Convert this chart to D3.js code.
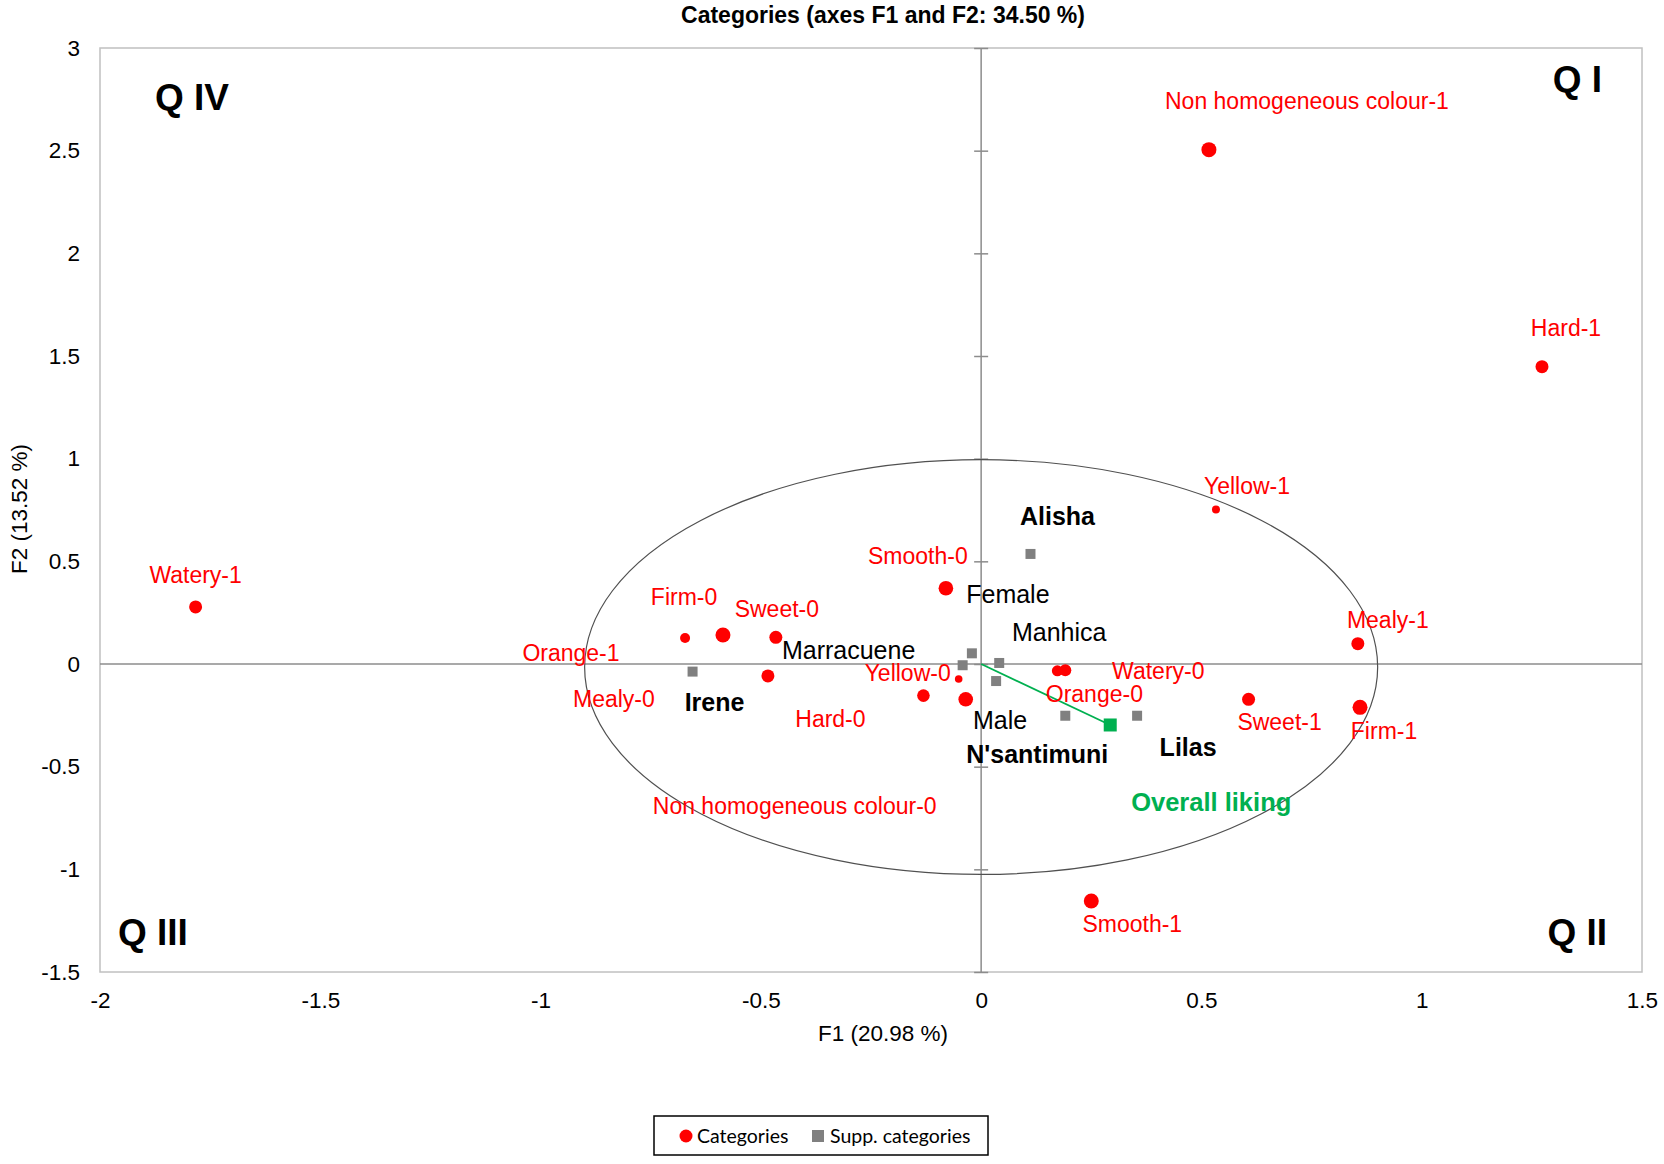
<!DOCTYPE html>
<html>
<head>
<meta charset="utf-8">
<script src="https://cdn.jsdelivr.net/npm/d3@7"></script>
<style>
  body { margin: 0; background: #fff; }
  text { font-family: "Liberation Sans", Arial, sans-serif; }
</style>
</head>
<body>
<div id="graph"></div>
<script>
// DATOS (coordenadas F1, F2)
const catNames = ["Non homogeneous colour-1", "Hard-1", "Watery-1", "Yellow-1", "Mealy-1", "Firm-1",
  "Sweet-1", "Watery-0", "Orange-0", "Smooth-1", "Smooth-0", "Yellow-0", "Firm-0", "Sweet-0",
  "Orange-1", "Mealy-0", "Hard-0", "Non homogeneous colour-0"];
const catF1 = [0.517, 1.273, -1.783, 0.533, 0.855, 0.860, 0.607, 0.191, 0.173, 0.250, -0.080, -0.051,
  -0.672, -0.466, -0.586, -0.484, -0.131, -0.035];
const catF2 = [2.505, 1.448, 0.278, 0.753, 0.099, -0.211, -0.172, -0.031, -0.033, -1.154, 0.369, -0.073,
  0.127, 0.130, 0.141, -0.058, -0.154, -0.172];

const suppNames = ["Alisha", "Irene", "Female", "Manhica", "Marracuene", "Male", "N'santimuni", "Lilas"];
const suppF1 = [0.112, -0.655, -0.021, 0.041, -0.042, 0.034, 0.191, 0.354];
const suppF2 = [0.536, -0.037, 0.052, 0.005, -0.006, -0.083, -0.252, -0.252];

const likingName = "Overall liking";
const likingF1 = 0.293;
const likingF2 = -0.297;

const xTicks = [-2, -1.5, -1, -0.5, 0, 0.5, 1, 1.5];
const yTicks = [-1.5, -1, -0.5, 0, 0.5, 1, 1.5, 2, 2.5, 3];

const titleText = "Categories (axes F1 and F2: 34.50 %)";
const xTitle = "F1 (20.98 %)";
const yTitle = "F2 (13.52 %)";
const quadrants = ["Q I", "Q II", "Q III", "Q IV"];

// LAYOUT: radio de los puntos y posicion de etiquetas (px respecto al punto)
const catRadius = [7.5, 6.5, 6.5, 4, 6.5, 7.5, 6.5, 6, 5.5, 7.5, 7.3, 3.8, 5, 6.5, 7.5, 6.5, 6.3, 7.3];
const catLabelOff = [[98, -49], [24, -39], [0, -32], [31, -24], [30, -24], [24, 23], [31, 22], [93, 0],
  [37, 23], [41, 23], [-28, -33], [-51, -6], [-1, -41], [1, -29], [-152, 18], [-154, 23], [-93, 23],
  [-171, 106]];
const suppBold = [true, true, false, false, false, false, true, true];
const suppLabelOff = [[27, -38], [22, 30], [36, -59], [60, -31], [-114, -15], [4, 39], [-28, 38], [51, 31]];
const likingLabelOff = [101, 77];

const svgWidth = 1664;
const svgHeight = 1164;
const margin = { top: 48, right: 22, bottom: 192, left: 100 };

const svg = d3.select("#graph")
  .append("svg")
  .attr("width", svgWidth)
  .attr("height", svgHeight);

const x = d3.scaleLinear().domain([-2, 1.5]).range([margin.left, svgWidth - margin.right]);
const y = d3.scaleLinear().domain([-1.5, 3]).range([svgHeight - margin.bottom, margin.top]);

const red = "#ff0000";
const green = "#00b050";

// marco del area de grafico
svg.append("rect")
  .attr("x", x(-2)).attr("y", y(3))
  .attr("width", x(1.5) - x(-2)).attr("height", y(-1.5) - y(3))
  .attr("fill", "none").attr("stroke", "#c0c0c0").attr("stroke-width", 1.5);

// etiquetas de ejes (fuera del marco)
svg.append("g")
  .attr("transform", `translate(${x(-2)},0)`)
  .call(d3.axisLeft(y).tickValues(yTicks).tickSize(0).tickPadding(20).tickFormat(d => String(d)))
  .call(g => g.select(".domain").remove())
  .selectAll("text").attr("font-size", 22.5).attr("fill", "#000")
  .style("font-family", "'Liberation Sans', Arial, sans-serif");

svg.append("g")
  .attr("transform", `translate(0,${y(-1.5)})`)
  .call(d3.axisBottom(x).tickValues(xTicks).tickSize(0).tickPadding(20).tickFormat(d => String(d)))
  .call(g => g.select(".domain").remove())
  .selectAll("text").attr("font-size", 22.5).attr("fill", "#000")
  .style("font-family", "'Liberation Sans', Arial, sans-serif");

// ejes en cero
svg.append("line")
  .attr("x1", x(-2)).attr("x2", x(1.5)).attr("y1", y(0)).attr("y2", y(0))
  .attr("stroke", "#8c8c8c").attr("stroke-width", 1.5);
svg.append("line")
  .attr("x1", x(0)).attr("x2", x(0)).attr("y1", y(3)).attr("y2", y(-1.5))
  .attr("stroke", "#8c8c8c").attr("stroke-width", 1.5);

svg.append("g")
  .attr("transform", `translate(${x(0) + 7},0)`)
  .call(d3.axisLeft(y).tickValues(yTicks).tickSize(14).tickFormat(""))
  .call(g => g.select(".domain").remove())
  .selectAll("line").attr("stroke", "#8c8c8c").attr("stroke-width", 1.5);

// elipse
svg.append("ellipse")
  .attr("cx", x(0)).attr("cy", y(-0.015))
  .attr("rx", x(0.9) - x(0)).attr("ry", y(0) - y(1.01))
  .attr("fill", "none").attr("stroke", "#505050").attr("stroke-width", 1.2);

// linea overall liking
svg.append("line")
  .attr("x1", x(0)).attr("y1", y(0)).attr("x2", x(likingF1)).attr("y2", y(likingF2))
  .attr("stroke", green).attr("stroke-width", 1.8);

// puntos categorias
const cats = catNames.map((n, i) => ({ name: n, f1: catF1[i], f2: catF2[i], r: catRadius[i], off: catLabelOff[i] }));
svg.append("g").selectAll("circle")
  .data(cats).join("circle")
  .attr("cx", d => x(d.f1)).attr("cy", d => y(d.f2)).attr("r", d => d.r)
  .attr("fill", red);

// categorias suplementarias
const supp = suppNames.map((n, i) => ({ name: n, f1: suppF1[i], f2: suppF2[i], bold: suppBold[i], off: suppLabelOff[i] }));
svg.append("g").selectAll("rect")
  .data(supp).join("rect")
  .attr("x", d => x(d.f1) - 5).attr("y", d => y(d.f2) - 5)
  .attr("width", 10).attr("height", 10)
  .attr("fill", "#808080");

svg.append("rect")
  .attr("x", x(likingF1) - 6.5).attr("y", y(likingF2) - 6.5)
  .attr("width", 13).attr("height", 13)
  .attr("fill", green);

// etiquetas
svg.append("g").selectAll("text")
  .data(cats).join("text")
  .attr("x", d => x(d.f1) + d.off[0]).attr("y", d => y(d.f2) + d.off[1])
  .attr("dy", "0.36em").attr("text-anchor", "middle")
  .attr("font-size", 23).attr("fill", red)
  .text(d => d.name);

svg.append("g").selectAll("text")
  .data(supp).join("text")
  .attr("x", d => x(d.f1) + d.off[0]).attr("y", d => y(d.f2) + d.off[1])
  .attr("dy", "0.36em").attr("text-anchor", "middle")
  .attr("font-size", 25).attr("font-weight", d => d.bold ? "bold" : "normal").attr("fill", "#000")
  .text(d => d.name);

svg.append("text")
  .attr("x", x(likingF1) + likingLabelOff[0]).attr("y", y(likingF2) + likingLabelOff[1])
  .attr("dy", "0.36em").attr("text-anchor", "middle")
  .attr("font-size", 25.5).attr("font-weight", "bold").attr("fill", green)
  .text(likingName);

// cuadrantes
const qPos = [
  { x: 1602, y: 92, anchor: "end" },
  { x: 1607, y: 945, anchor: "end" },
  { x: 118, y: 945, anchor: "start" },
  { x: 155, y: 110, anchor: "start" }
];
svg.append("g").selectAll("text")
  .data(quadrants).join("text")
  .attr("x", (d, i) => qPos[i].x).attr("y", (d, i) => qPos[i].y)
  .attr("text-anchor", (d, i) => qPos[i].anchor)
  .attr("font-size", 37).attr("font-weight", "bold").attr("fill", "#000")
  .text(d => d);

// titulos
svg.append("text")
  .attr("x", 883).attr("y", 23)
  .attr("text-anchor", "middle").attr("font-size", 23).attr("font-weight", "bold")
  .text(titleText);

svg.append("text")
  .attr("x", 883).attr("y", 1041)
  .attr("text-anchor", "middle").attr("font-size", 22.5)
  .text(xTitle);

svg.append("text")
  .attr("transform", "translate(27,509) rotate(-90)")
  .attr("text-anchor", "middle").attr("font-size", 22.5)
  .text(yTitle);

// leyenda
const legend = svg.append("g");
legend.append("rect")
  .attr("x", 654).attr("y", 1116).attr("width", 334).attr("height", 39)
  .attr("fill", "#fff").attr("stroke", "#000").attr("stroke-width", 1.5);
legend.append("circle").attr("cx", 686).attr("cy", 1136).attr("r", 6.5).attr("fill", red);
legend.append("text").attr("x", 697).attr("y", 1136).attr("dy", "0.35em")
  .attr("font-size", 19.5).style("font-family", "Lato, 'Open Sans', sans-serif").text("Categories");
legend.append("rect").attr("x", 812).attr("y", 1130).attr("width", 12).attr("height", 12).attr("fill", "#808080");
legend.append("text").attr("x", 830).attr("y", 1136).attr("dy", "0.35em")
  .attr("font-size", 19.5).style("font-family", "Lato, 'Open Sans', sans-serif").text("Supp. categories");
</script>
</body>
</html>
